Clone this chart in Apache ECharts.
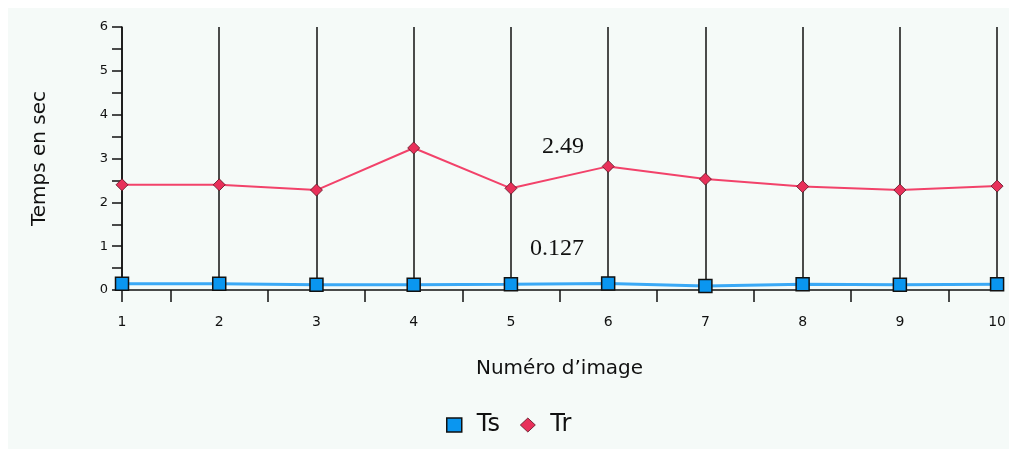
<!DOCTYPE html>
<html>
<head>
<meta charset="utf-8">
<script src="https://cdn.jsdelivr.net/npm/echarts@6/dist/echarts.min.js"></script>
<style>
html,body{margin:0;padding:0;background:#ffffff;width:1009px;height:449px;overflow:hidden;}
#wrap{position:absolute;left:8px;top:8px;width:1001px;height:441px;background:#f5faf8;}
#chart{position:absolute;left:0;top:0;width:1009px;height:449px;}
</style>
</head>
<body>
<div id="wrap"></div>
<div id="chart"></div>
<script>
const images = [1, 2, 3, 4, 5, 6, 7, 8, 9, 10];
const tsValues = [0.14, 0.14, 0.12, 0.12, 0.13, 0.15, 0.09, 0.13, 0.12, 0.13];
const trValues = [2.40, 2.40, 2.28, 3.24, 2.32, 2.82, 2.53, 2.36, 2.28, 2.37];
const xTickValues = [1, 1.5, 2.5, 3.5, 4.5, 5.5, 6.5, 7.5, 8.5, 9.5];
const annotations = ['2.49', '0.127'];

const chart = echarts.init(document.getElementById('chart'), null, {renderer: 'canvas'});
const sans = '"DejaVu Sans", Verdana, sans-serif';
const serif = '"Liberation Serif", "Times New Roman", serif';
chart.setOption({
  animation: false,
  backgroundColor: 'transparent',
  grid: {left: 122, top: 27, right: 6, bottom: 159, containLabel: false},
  xAxis: [
    {
      type: 'value', min: 1, max: 10, interval: 1,
      name: 'Numéro d\u2019image', nameLocation: 'middle', nameGap: 69,
      nameTextStyle: {color: '#111', fontFamily: sans, fontSize: 20, verticalAlign: 'top'},
      axisLine: {show: true, onZero: false, lineStyle: {color: '#111', width: 1.5}},
      axisTick: {show: true, inside: false, length: 12, customValues: xTickValues, lineStyle: {color: '#111', width: 1.5}},
      axisLabel: {color: '#111', fontFamily: sans, fontSize: 14, margin: 25, showMaxLabel: true, showMinLabel: true},
      splitLine: {show: false}
    },
    {
      type: 'value', min: 1, max: 10, interval: 1, position: 'bottom',
      axisLine: {show: false}, axisTick: {show: false}, axisLabel: {show: false},
      splitLine: {show: true, lineStyle: {color: '#111', width: 1.5}}
    }
  ],
  yAxis: {
    type: 'value', min: 0, max: 6, interval: 0.5,
    name: 'Temps en sec', nameLocation: 'middle', nameGap: 72, nameRotate: 90,
    nameTextStyle: {color: '#111', fontFamily: sans, fontSize: 20},
    axisLine: {show: true, lineStyle: {color: '#111', width: 1.5}},
    axisTick: {show: true, length: 10, lineStyle: {color: '#111', width: 1.5}},
    axisLabel: {color: '#111', fontFamily: sans, fontSize: 13, margin: 14,
      formatter: v => (Math.abs(v - Math.round(v)) < 1e-9 ? String(Math.round(v)) : '')},
    splitLine: {show: false}
  },
  legend: {
    top: 413, left: 446, padding: 0, itemGap: 20, itemWidth: 15, itemHeight: 14,
    textStyle: {color: '#111', fontFamily: sans, fontSize: 24, padding: [0, 0, 0, 10]},
    data: [
      {name: 'Ts', icon: 'rect', itemStyle: {color: '#0a96f0', borderColor: '#111', borderWidth: 1.5}},
      {name: 'Tr', icon: 'diamond', itemStyle: {color: '#e8305a', borderColor: '#5a1020', borderWidth: 0.8}}
    ]
  },
  series: [
    {
      name: 'Ts', type: 'line', xAxisIndex: 0,
      data: images.map((x, i) => [x, tsValues[i]]),
      symbol: 'rect', symbolSize: 13, showAllSymbol: true,
      lineStyle: {color: '#3aa8f5', width: 3},
      itemStyle: {color: '#0a96f0', borderColor: '#111', borderWidth: 1.5},
      z: 5
    },
    {
      name: 'Tr', type: 'line', xAxisIndex: 0,
      data: images.map((x, i) => [x, trValues[i]]),
      symbol: 'diamond', symbolSize: 12, showAllSymbol: true,
      lineStyle: {color: '#f2426a', width: 2},
      itemStyle: {color: '#e8305a', borderColor: '#5a1020', borderWidth: 0.8},
      z: 4
    }
  ],
  graphic: [
    {type: 'text', left: 542, top: 135, z: 10,
      style: {text: annotations[0], fill: '#111', font: '24px ' + serif}},
    {type: 'text', left: 530, top: 237, z: 10,
      style: {text: annotations[1], fill: '#111', font: '24px ' + serif}}
  ]
});
</script>
</body>
</html>
